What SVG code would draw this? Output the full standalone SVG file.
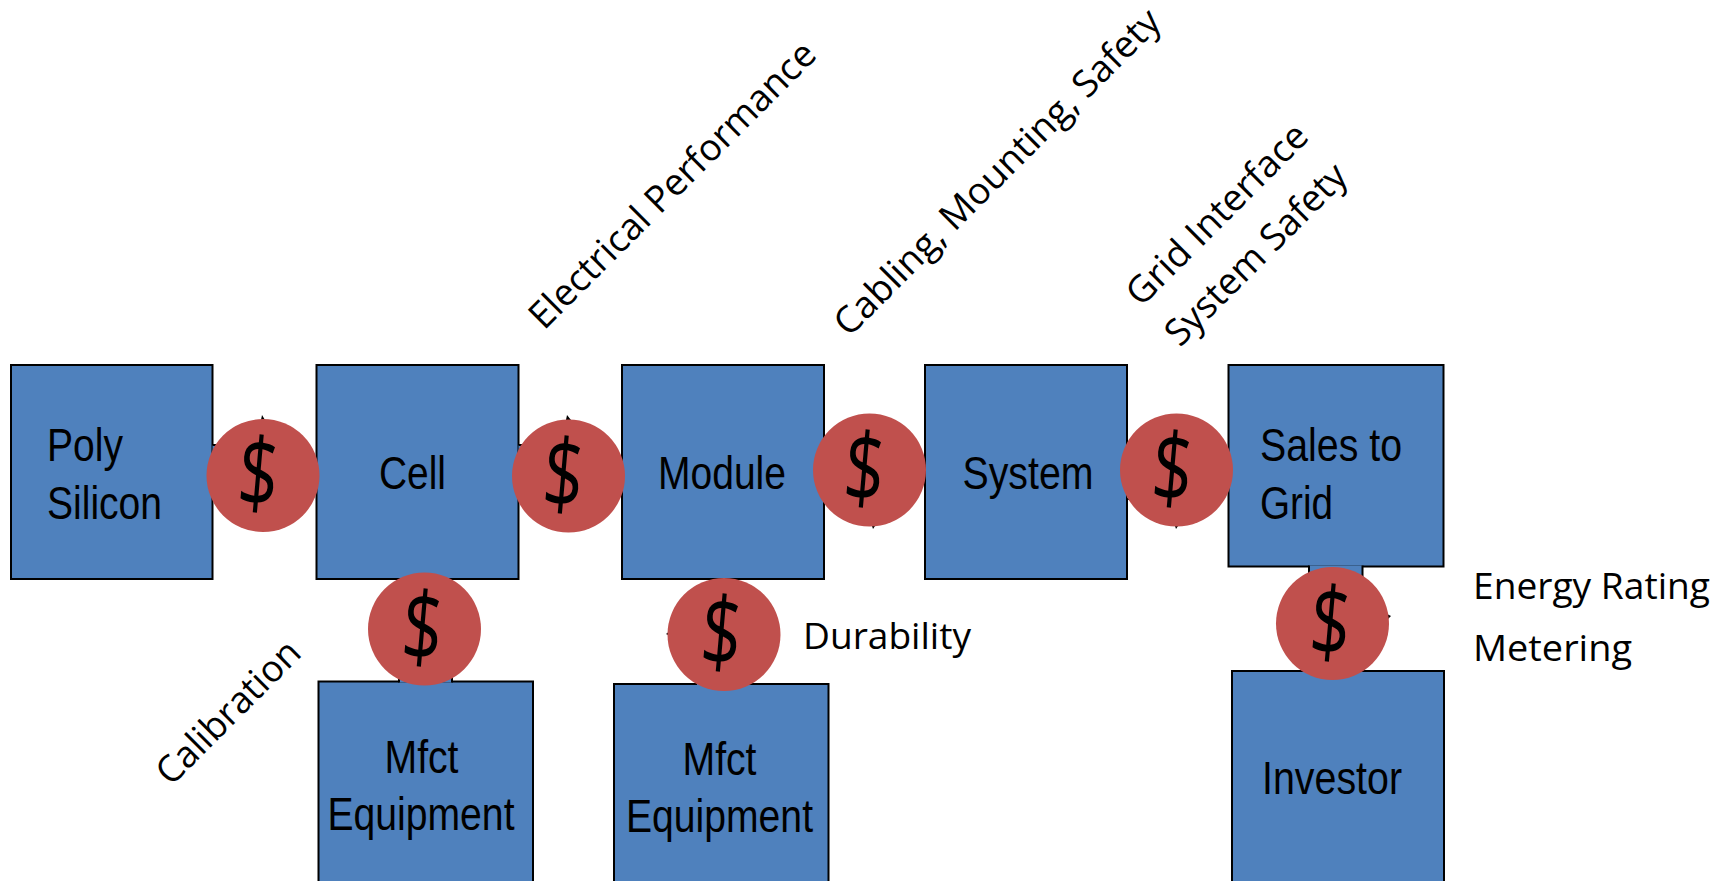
<svg xmlns="http://www.w3.org/2000/svg" width="1723" height="881" viewBox="0 0 1723 881">
<style>
.box{fill:#4F81BD;stroke:#000;stroke-width:2}
.coin{fill:#C0504D}
.t{font-family:"Liberation Sans",Arial,sans-serif;font-size:47px;fill:#000}
.d{font-family:"Open Sans","Liberation Sans",sans-serif;font-size:80px;fill:#000;text-anchor:middle}
.l{font-family:"Open Sans","Liberation Sans",sans-serif;font-size:36px;fill:#000}
.r{font-size:37px}
.tick{fill:#000}
</style>
<rect width="1723" height="881" fill="#fff"/>
<g id="poly-silicon"><rect class="box" x="11" y="365" width="201.500" height="214"/>
<text class="t" x="47" y="461" textLength="76" lengthAdjust="spacingAndGlyphs">Poly</text>
<text class="t" x="47" y="518.500" textLength="115" lengthAdjust="spacingAndGlyphs">Silicon</text></g>
<g id="cell"><rect class="box" x="316.500" y="365" width="202" height="214"/>
<text class="t" x="379" y="489" textLength="67" lengthAdjust="spacingAndGlyphs">Cell</text></g>
<g id="module"><rect class="box" x="622" y="365" width="202" height="214"/>
<text class="t" x="658" y="489" textLength="128" lengthAdjust="spacingAndGlyphs">Module</text></g>
<g id="system"><rect class="box" x="925" y="365" width="202" height="214"/>
<text class="t" x="962.500" y="489" textLength="131" lengthAdjust="spacingAndGlyphs">System</text></g>
<g id="sales-to-grid"><rect class="box" x="1228.500" y="365" width="215" height="201.500"/>
<text class="t" x="1260" y="461" textLength="142" lengthAdjust="spacingAndGlyphs">Sales to</text>
<text class="t" x="1260" y="518.500" textLength="73" lengthAdjust="spacingAndGlyphs">Grid</text></g>
<g id="mfct-equipment-1"><rect class="box" x="318.500" y="681.500" width="214.500" height="220"/>
<text class="t" x="384.500" y="773" textLength="74" lengthAdjust="spacingAndGlyphs">Mfct</text>
<text class="t" x="327.500" y="830" textLength="187" lengthAdjust="spacingAndGlyphs">Equipment</text></g>
<g id="mfct-equipment-2"><rect class="box" x="614" y="684" width="214.500" height="220"/>
<text class="t" x="682.500" y="775" textLength="74" lengthAdjust="spacingAndGlyphs">Mfct</text>
<text class="t" x="626" y="832" textLength="187" lengthAdjust="spacingAndGlyphs">Equipment</text></g>
<g id="investor"><rect class="box" x="1232" y="671" width="212" height="230"/>
<text class="t" x="1262" y="794" textLength="140" lengthAdjust="spacingAndGlyphs">Investor</text></g>
<g id="connectors">
<path class="box" d="M212.500 445H280V499H212.500"/>
<path class="box" d="M518.500 445H585V499H518.500"/>
<path class="box" d="M824 445H880V499H824"/>
<path class="box" d="M1127 445H1185V499H1127"/>
<path class="box" d="M399 682.500V640H452V682.500"/>
<path class="box" d="M696 685V640H749V685"/>
<path class="box" d="M1309 565.500V620H1362.500V565.500"/>
</g>
<g id="coin-1"><polygon class="tick" points="262,415 265,420 261,420"/><circle class="coin" cx="263" cy="475.500" r="56.500"/><text class="d" transform="translate(255.500,507) rotate(5) scale(.88,1.2)">$</text></g>
<g id="coin-2"><polygon class="tick" points="567,415 571,420 566,420"/><circle class="coin" cx="568.500" cy="476" r="56.500"/><text class="d" transform="translate(560.500,508) rotate(5) scale(.88,1.2)">$</text></g>
<g id="coin-3"><circle class="coin" cx="424.500" cy="629" r="56.500"/><text class="d" transform="translate(419.500,661) rotate(5) scale(.88,1.2)">$</text></g>
<g id="coin-4"><polygon class="tick" points="872,526 875,526 873,529"/><circle class="coin" cx="869.500" cy="470" r="56.500"/><text class="d" transform="translate(861.500,502) rotate(5) scale(.88,1.2)">$</text></g>
<g id="coin-5"><polygon class="tick" points="1175,526 1178,526 1176,529"/><circle class="coin" cx="1176.500" cy="470" r="56.500"/><text class="d" transform="translate(1169.500,502) rotate(5) scale(.88,1.2)">$</text></g>
<g id="coin-6"><polygon class="tick" points="670,631 670,636 666,634"/><circle class="coin" cx="724" cy="634.500" r="56.500"/><text class="d" transform="translate(718.500,666) rotate(5) scale(.88,1.2)">$</text></g>
<g id="coin-7"><polygon class="tick" points="1387,614 1391,616 1387,620"/><circle class="coin" cx="1332.500" cy="623.500" r="56.500"/><text class="d" transform="translate(1327.500,656) rotate(5) scale(.88,1.2)">$</text></g>
<g id="labels">
<text class="l" x="803" y="649" textLength="168" lengthAdjust="spacingAndGlyphs">Durability</text>
<text class="l" x="1473" y="598.500" textLength="237" lengthAdjust="spacingAndGlyphs">Energy Rating</text>
<text class="l" x="1473" y="660.500" textLength="159" lengthAdjust="spacingAndGlyphs">Metering</text>
<text class="l r" transform="translate(171,787) rotate(-45)" textLength="187" lengthAdjust="spacingAndGlyphs">Calibration</text>
<text class="l r" transform="translate(544,331) rotate(-45)" textLength="388" lengthAdjust="spacingAndGlyphs">Electrical Performance</text>
<text class="l r" transform="translate(849,338) rotate(-45)" textLength="444" lengthAdjust="spacingAndGlyphs">Cabling, Mounting, Safety</text>
<text class="l r" transform="translate(1141,308) rotate(-45)" textLength="240" lengthAdjust="spacingAndGlyphs">Grid Interface</text>
<text class="l r" transform="translate(1180,348) rotate(-45)" textLength="240" lengthAdjust="spacingAndGlyphs">System Safety</text>
</g>
</svg>
